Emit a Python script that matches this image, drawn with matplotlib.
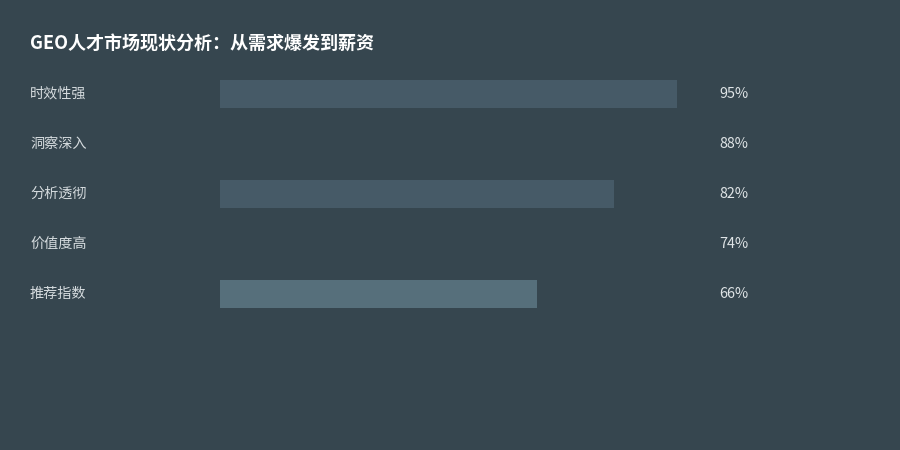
import matplotlib
matplotlib.use('Agg')
import matplotlib.pyplot as plt
from matplotlib import transforms

plt.rcParams['font.family'] = ['Noto Sans CJK SC', 'DejaVu Sans']

categories = ['时效性强', '洞察深入', '分析透彻', '价值度高', '推荐指数']
values = [95, 88, 82, 74, 66]
pct_labels = ['95%', '88%', '82%', '74%', '66%']
bar_colors = ['#465a67', '#36464f', '#465a67', '#36464f', '#566f7b']

bg = '#36464f'
fig = plt.figure(figsize=(9, 4.5), dpi=100, facecolor=bg)
ax = fig.add_axes([220 / 900, 1 - 319 / 450, 481 / 900, 250 / 450])
ax.set_facecolor(bg)

ypos = list(range(len(categories)))
ax.barh(ypos, values, height=0.56, color=bar_colors, linewidth=0)
ax.set_xlim(0, 100)
ax.set_ylim(len(categories) - 0.5, -0.5)
ax.axis('off')

trans = transforms.blended_transform_factory(fig.transFigure, ax.transData)
for y, cat, lab in zip(ypos, categories, pct_labels):
    ax.text(30 / 900, y, cat, transform=trans, color='#d5dbde',
            fontsize=10.2, ha='left', va='center')
    ax.text(719 / 900, y, lab, transform=trans, color='#dfe4e6',
            fontsize=10.4, ha='left', va='center')

fig.text(30 / 900, 1 - 44 / 450, 'GEO人才市场现状分析：从需求爆发到薪资',
         color='white', fontsize=13, fontweight='bold', ha='left', va='center')

fig.savefig('out.png', dpi=100, facecolor=bg)
